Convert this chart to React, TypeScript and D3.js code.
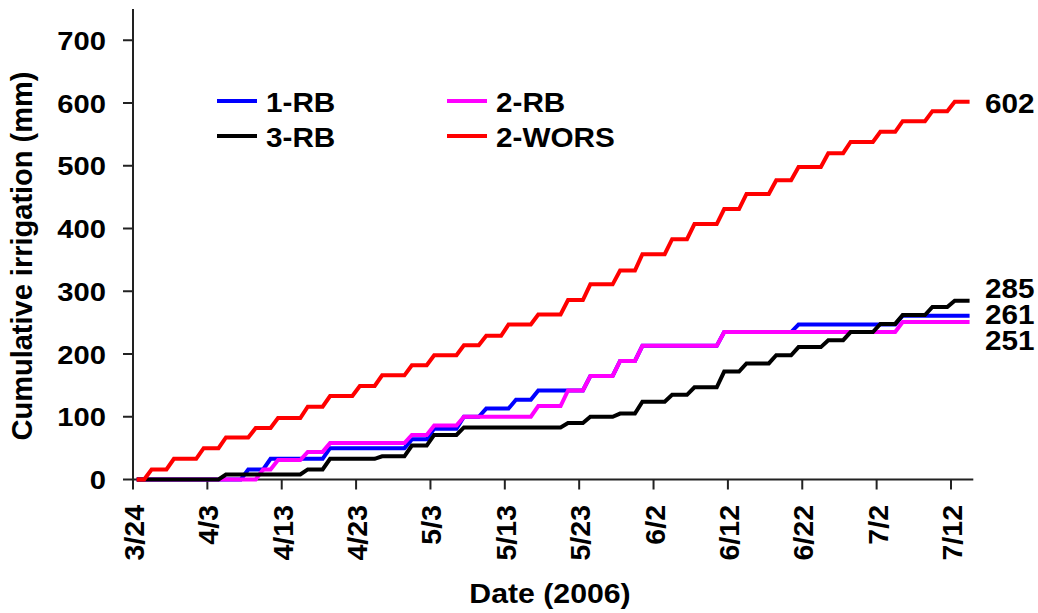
import React from "react";
import * as d3 from "d3";

// ---- data (days after 3/24/2006 at which the cumulative total reached each value) ----
const startDate = Date.UTC(2006, 2, 24);
const endDay = 112; // last plotted day (7/14)
const axisEndDay = 113;

const tickDays = [0, 10, 20, 30, 40, 50, 60, 70, 80, 90, 100, 110];
const tickLabels = ["3/24", "4/3", "4/13", "4/23", "5/3", "5/13", "5/23", "6/2", "6/12", "6/22", "7/2", "7/12"];
const yTicks = [0, 100, 200, 300, 400, 500, 600, 700];

const rb1Days = [0, 15, 18, 26, 37, 40, 44, 47, 51, 54, 61, 65, 68, 79, 89, 103];
const rb1Vals = [0, 16, 33, 50, 64, 81, 100, 113, 127, 142, 165, 189, 213, 235, 247, 261];

const rb2Days = [0, 17, 19, 23, 26, 37, 40, 44, 54, 58, 61, 65, 68, 79, 103];
const rb2Vals = [0, 16, 31, 44, 58, 71, 86, 100, 117, 142, 165, 189, 213, 235, 251];

const rb3Days = [0, 12, 23, 26, 33, 37, 40, 44, 58, 61, 65, 68, 72, 75, 79, 82, 86, 89, 93, 96, 100, 103, 107, 110];
const rb3Vals = [0, 8, 16, 33, 37, 54, 71, 83, 90, 100, 105, 124, 135, 147, 172, 185, 198, 211, 222, 235, 248, 262, 275, 285];

const worsDays = [0, 2, 5, 9, 12, 16, 19, 23, 26, 30, 33, 37, 40, 44, 47, 50, 54, 58, 61, 65, 68, 72, 75, 79, 82, 86, 89, 93, 96, 100, 103, 107, 110];
const worsVals = [0, 16, 33, 50, 67, 82, 98, 116, 133, 149, 166, 182, 198, 214, 229, 247, 263, 286, 311, 333, 359, 383, 407, 431, 455, 477, 498, 520, 538, 554, 571, 587, 602];

const seriesNames = ["1-RB", "2-RB", "3-RB", "2-WORS"];
const seriesColors = ["#0000FF", "#FF00FF", "#000000", "#FF0000"];
const seriesDays = [rb1Days, rb2Days, rb3Days, worsDays];
const seriesVals = [rb1Vals, rb2Vals, rb3Vals, worsVals];

const FONT = "'Liberation Sans', Arial, Helvetica, sans-serif";
const dayMs = 86400000;
const toDate = (d: number) => new Date(startDate + d * dayMs);
const SX = 1.1; // horizontal stretch of the horizontal texts

function HText(props: { x: number; y: number; anchor?: string; size: number; children: React.ReactNode; dy?: string }) {
  return (
    <text transform={`translate(${props.x},${props.y}) scale(${SX},1)`} dy={props.dy} textAnchor={props.anchor || "start"} fontSize={props.size} fill="#000">
      {props.children}
    </text>
  );
}

export default function App() {
  const W = 1038, H = 613;
  const x = d3.scaleUtc().domain([toDate(0), toDate(axisEndDay)]).range([133, 973.3]);
  const y = d3.scaleLinear().domain([0, 750]).range([479.5, 479.5 - 750 * 0.6275]);
  const half = (x(toDate(1)) - x(toDate(0))) / 2;
  const px = (d: number) => x(toDate(d)) + half;

  const line = d3.line<[number, number]>().x(p => px(p[0])).y(p => y(p[1]));

  const buildPts = (days: number[], vals: number[]) => {
    const pts: [number, number][] = [[days[0], vals[0]]];
    for (let i = 1; i < days.length; i++) {
      pts.push([days[i] - 1, vals[i - 1]]);
      pts.push([days[i], vals[i]]);
    }
    pts.push([endDay, vals[vals.length - 1]]);
    return pts;
  };

  // end labels: spread the close ones
  const finals = seriesVals.map((v, i) => ({ i, v: v[v.length - 1], y: y(v[v.length - 1]) }));
  const sorted = [...finals].sort((a, b) => a.y - b.y);
  const gap = 26;
  const labelY: number[] = [];
  const clusters: { items: typeof sorted }[] = [];
  sorted.forEach(f => {
    const last = clusters[clusters.length - 1];
    if (last && f.y - last.items[last.items.length - 1].y < gap) last.items.push(f);
    else clusters.push({ items: [f] });
  });
  clusters.forEach(c => {
    const mean = d3.mean(c.items, d => d.y) as number;
    const n = c.items.length;
    c.items.forEach((f, k) => {
      labelY[f.i] = mean + (k - (n - 1) / 2) * gap + 11;
    });
  });

  const legendPos = [
    { lx: 217, ly: 101 },
    { lx: 447, ly: 101 },
    { lx: 217, ly: 136 },
    { lx: 447, ly: 136 },
  ];

  return (
    <div style={{ position: "absolute", left: 0, top: 0 }}>
      <svg width={W} height={H} style={{ display: "block", background: "#fff" }} fontFamily={FONT} fontWeight="bold">
        {/* axes */}
        <line x1={133} x2={133} y1={y(750)} y2={y(0) + 1} stroke="#222" strokeWidth={2} />
        <line x1={132} x2={x(toDate(axisEndDay))} y1={y(0)} y2={y(0)} stroke="#222" strokeWidth={2} />
        {yTicks.map(t => (
          <g key={t}>
            <line x1={123} x2={133} y1={y(t)} y2={y(t)} stroke="#222" strokeWidth={2} />
            <HText x={106} y={y(t)} dy="0.36em" anchor="end" size={26.5}>{t}</HText>
          </g>
        ))}
        {tickDays.map((d, i) => (
          <g key={d}>
            <line x1={x(toDate(d))} x2={x(toDate(d))} y1={y(0)} y2={y(0) + 10} stroke="#222" strokeWidth={2} />
            <text transform={`translate(${x(toDate(d)) + 11},505) rotate(-90)`} textAnchor="end" fontSize={28.5} fill="#000">{tickLabels[i]}</text>
          </g>
        ))}
        <HText x={550} y={603} anchor="middle" size={27.5}>Date (2006)</HText>
        <text transform="translate(32,256) rotate(-90)" textAnchor="middle" fontSize={29} fill="#000">Cumulative irrigation (mm)</text>

        {/* series */}
        {seriesNames.map((n, i) => (
          <path key={n} d={line(buildPts(seriesDays[i], seriesVals[i])) || ""} fill="none" stroke={seriesColors[i]} strokeWidth={4} />
        ))}

        {/* end labels */}
        {finals.map(f => (
          <HText key={f.i} x={985} y={labelY[f.i]} size={27}>{f.v}</HText>
        ))}

        {/* legend */}
        {seriesNames.map((n, i) => (
          <g key={n}>
            <line x1={legendPos[i].lx} x2={legendPos[i].lx + 40} y1={legendPos[i].ly} y2={legendPos[i].ly} stroke={seriesColors[i]} strokeWidth={4} />
            <HText x={legendPos[i].lx + 49} y={legendPos[i].ly + 11} size={27}>{n}</HText>
          </g>
        ))}
      </svg>
    </div>
  );
}
